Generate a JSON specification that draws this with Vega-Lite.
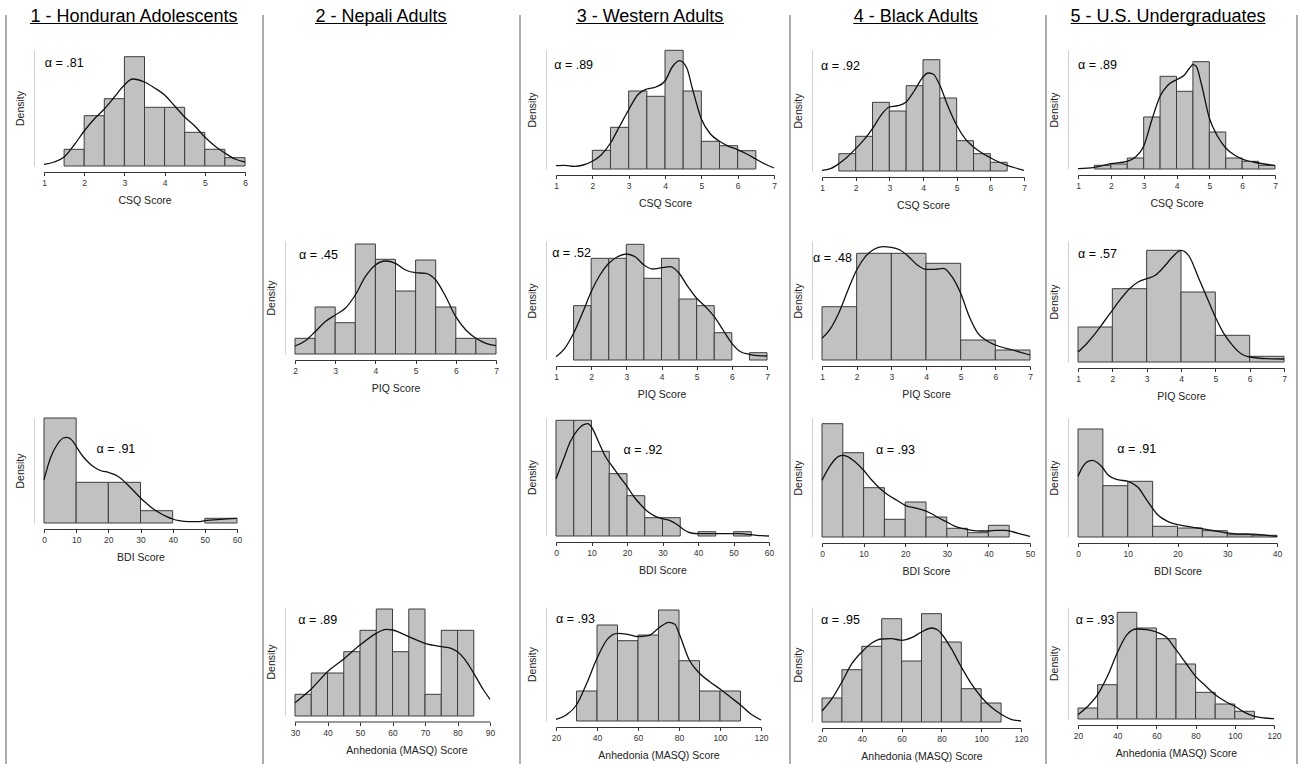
{
"$schema":"https://vega.github.io/schema/vega-lite/v6.json",
"padding":0,
"background":"white",
"columns":11,
"spacing":0,
"bounds":"flush",
"align":"each",
"center":{"row":false,"column":true},
"concat":[
{"width":1,"height":15,"data":{"values":[]},"mark":"point"},
{"width":1,"height":15,"data":{"values":[]},"mark":"point"},
{"width":1,"height":15,"data":{"values":[]},"mark":"point"},
{"width":1,"height":15,"data":{"values":[]},"mark":"point"},
{"width":1,"height":15,"data":{"values":[]},"mark":"point"},
{"width":1,"height":15,"data":{"values":[]},"mark":"point"},
{"width":1,"height":15,"data":{"values":[]},"mark":"point"},
{"width":1,"height":15,"data":{"values":[]},"mark":"point"},
{"width":1,"height":15,"data":{"values":[]},"mark":"point"},
{"width":1,"height":15,"data":{"values":[]},"mark":"point"},
{"width":1,"height":15,"data":{"values":[]},"mark":"point"},

{"width":44,"height":35,"data":{"values":[{"s":6}]},"mark":{"type":"rule","color":"#808080","strokeWidth":1.3},"encoding":{"x":{"field":"s","type":"quantitative","scale":{"domain":[0,44]},"axis":null}}},
{"width":201,"height":35,"data":{"values":[{"c":90,"a":-14,"b":194,"y":1,"t":"1 - Honduran Adolescents"}]},"encoding":{"y":{"field":"y","type":"quantitative","scale":{"domain":[0,1]},"axis":null}},"layer":[
 {"mark":{"type":"text","fontSize":18,"baseline":"alphabetic","align":"center","dy":6.5,"color":"#000"},"encoding":{"x":{"field":"c","type":"quantitative","scale":{"domain":[0,201]},"axis":null},"text":{"field":"t"}}},
 {"mark":{"type":"rule","color":"#000","strokeWidth":1.2,"yOffset":8.5},"encoding":{"x":{"field":"a","type":"quantitative","scale":{"domain":[0,201]},"axis":null},"x2":{"field":"b"}}}]},
{"width":50,"height":35,"data":{"values":[{"s":18}]},"mark":{"type":"rule","color":"#808080","strokeWidth":1.3},"encoding":{"x":{"field":"s","type":"quantitative","scale":{"domain":[0,50]},"axis":null}}},
{"width":223,"height":35,"data":{"values":[{"c":86,"a":20,"b":152,"y":1,"t":"2 - Nepali Adults"}]},"encoding":{"y":{"field":"y","type":"quantitative","scale":{"domain":[0,1]},"axis":null}},"layer":[
 {"mark":{"type":"text","fontSize":18,"baseline":"alphabetic","align":"center","dy":6.5,"color":"#000"},"encoding":{"x":{"field":"c","type":"quantitative","scale":{"domain":[0,223]},"axis":null},"text":{"field":"t"}}},
 {"mark":{"type":"rule","color":"#000","strokeWidth":1.2,"yOffset":8.5},"encoding":{"x":{"field":"a","type":"quantitative","scale":{"domain":[0,223]},"axis":null},"x2":{"field":"b"}}}]},
{"width":38,"height":35,"data":{"values":[{"s":2}]},"mark":{"type":"rule","color":"#808080","strokeWidth":1.3},"encoding":{"x":{"field":"s","type":"quantitative","scale":{"domain":[0,38]},"axis":null}}},
{"width":218,"height":35,"data":{"values":[{"c":94,"a":20,"b":168,"y":1,"t":"3 - Western Adults"}]},"encoding":{"y":{"field":"y","type":"quantitative","scale":{"domain":[0,1]},"axis":null}},"layer":[
 {"mark":{"type":"text","fontSize":18,"baseline":"alphabetic","align":"center","dy":6.5,"color":"#000"},"encoding":{"x":{"field":"c","type":"quantitative","scale":{"domain":[0,218]},"axis":null},"text":{"field":"t"}}},
 {"mark":{"type":"rule","color":"#000","strokeWidth":1.2,"yOffset":8.5},"encoding":{"x":{"field":"a","type":"quantitative","scale":{"domain":[0,218]},"axis":null},"x2":{"field":"b"}}}]},
{"width":48,"height":35,"data":{"values":[{"s":16}]},"mark":{"type":"rule","color":"#808080","strokeWidth":1.3},"encoding":{"x":{"field":"s","type":"quantitative","scale":{"domain":[0,48]},"axis":null}}},
{"width":208,"height":35,"data":{"values":[{"c":93.7,"a":31.2,"b":156.2,"y":1,"t":"4 - Black Adults"}]},"encoding":{"y":{"field":"y","type":"quantitative","scale":{"domain":[0,1]},"axis":null}},"layer":[
 {"mark":{"type":"text","fontSize":18,"baseline":"alphabetic","align":"center","dy":6.5,"color":"#000"},"encoding":{"x":{"field":"c","type":"quantitative","scale":{"domain":[0,208]},"axis":null},"text":{"field":"t"}}},
 {"mark":{"type":"rule","color":"#000","strokeWidth":1.2,"yOffset":8.5},"encoding":{"x":{"field":"a","type":"quantitative","scale":{"domain":[0,208]},"axis":null},"x2":{"field":"b"}}}]},
{"width":48,"height":35,"data":{"values":[{"s":16}]},"mark":{"type":"rule","color":"#808080","strokeWidth":1.3},"encoding":{"x":{"field":"s","type":"quantitative","scale":{"domain":[0,48]},"axis":null}}},
{"width":206,"height":35,"data":{"values":[{"c":90,"a":-7.5,"b":187.5,"y":1,"t":"5 - U.S. Undergraduates"}]},"encoding":{"y":{"field":"y","type":"quantitative","scale":{"domain":[0,1]},"axis":null}},"layer":[
 {"mark":{"type":"text","fontSize":18,"baseline":"alphabetic","align":"center","dy":6.5,"color":"#000"},"encoding":{"x":{"field":"c","type":"quantitative","scale":{"domain":[0,206]},"axis":null},"text":{"field":"t"}}},
 {"mark":{"type":"rule","color":"#000","strokeWidth":1.2,"yOffset":8.5},"encoding":{"x":{"field":"a","type":"quantitative","scale":{"domain":[0,206]},"axis":null},"x2":{"field":"b"}}}]},
{"width":16,"height":35,"data":{"values":[{"s":13}]},"mark":{"type":"rule","color":"#808080","strokeWidth":1.3},"encoding":{"x":{"field":"s","type":"quantitative","scale":{"domain":[0,16]},"axis":null}}},

{"width":44,"height":121,"data":{"values":[{"s":6}]},"mark":{"type":"rule","color":"#808080","strokeWidth":1.3},"encoding":{"x":{"field":"s","type":"quantitative","scale":{"domain":[0,44]},"axis":null}}},
{"width":201,"height":116,
 "encoding":{"x":{"field":"lo","type":"quantitative","scale":{"domain":[1,6],"nice":false,"zero":false},"axis":{"values":[1,2,3,4,5,6],"title":"CSQ Score"}},
 "y":{"field":"v","type":"quantitative","scale":{"domain":[0,116],"nice":false},"axis":{"title":"Density"}}},
 "layer":[
 {"data":{"values":[{"lo":1.5,"hi":2,"v":16.7},{"lo":2,"hi":2.5,"v":50.3},{"lo":2.5,"hi":3,"v":67.3},{"lo":3,"hi":3.5,"v":109.3},{"lo":3.5,"hi":4,"v":58.7},{"lo":4,"hi":4.5,"v":58.7},{"lo":4.5,"hi":5,"v":33.7},{"lo":5,"hi":5.5,"v":16.7},{"lo":5.5,"hi":6,"v":8.3}]},
  "mark":{"type":"rect","fill":"#c1c1c1","stroke":"#3c3c3c","strokeWidth":1},"encoding":{"x2":{"field":"hi"},"y2":{"datum":0}}},
 {"data":{"values":[{"lo":1,"v":1.7},{"lo":1.25,"v":4},{"lo":1.5,"v":9},{"lo":1.75,"v":21},{"lo":2,"v":35},{"lo":2.25,"v":47},{"lo":2.5,"v":57},{"lo":2.75,"v":69},{"lo":3,"v":81},{"lo":3.2,"v":87},{"lo":3.5,"v":84},{"lo":3.75,"v":78},{"lo":4,"v":71},{"lo":4.25,"v":60},{"lo":4.5,"v":49},{"lo":4.75,"v":40},{"lo":5,"v":29},{"lo":5.25,"v":20},{"lo":5.5,"v":13},{"lo":5.75,"v":7},{"lo":6,"v":4}]},
  "mark":{"type":"line","color":"#111","strokeWidth":1.3,"interpolate":"monotone"}},
 {"data":{"values":[{"lo":1.02,"v":103,"t":"α = .81"}]},"mark":{"type":"text","align":"left","baseline":"middle","fontSize":12.5,"color":"#000"},"encoding":{"text":{"field":"t"}}}]},
{"width":50,"height":121,"data":{"values":[{"s":18}]},"mark":{"type":"rule","color":"#808080","strokeWidth":1.3},"encoding":{"x":{"field":"s","type":"quantitative","scale":{"domain":[0,50]},"axis":null}}},
{"width":1,"height":1,"data":{"values":[]},"mark":"point"},
{"width":38,"height":121,"data":{"values":[{"s":2}]},"mark":{"type":"rule","color":"#808080","strokeWidth":1.3},"encoding":{"x":{"field":"s","type":"quantitative","scale":{"domain":[0,38]},"axis":null}}},
{"width":218,"height":119,
 "encoding":{"x":{"field":"lo","type":"quantitative","scale":{"domain":[1,7],"nice":false,"zero":false},"axis":{"values":[1,2,3,4,5,6,7],"title":"CSQ Score"}},
 "y":{"field":"v","type":"quantitative","scale":{"domain":[0,119],"nice":false},"axis":{"title":"Density"}}},
 "layer":[
 {"data":{"values":[{"lo":2,"hi":2.5,"v":18.7},{"lo":2.5,"hi":3,"v":41.7},{"lo":3,"hi":3.5,"v":78},{"lo":3.5,"hi":4,"v":72.7},{"lo":4,"hi":4.5,"v":118.7},{"lo":4.5,"hi":5,"v":78},{"lo":5,"hi":5.5,"v":27.7},{"lo":5.5,"hi":6,"v":23.3},{"lo":6,"hi":6.5,"v":18.3}]},
  "mark":{"type":"rect","fill":"#c1c1c1","stroke":"#3c3c3c","strokeWidth":1},"encoding":{"x2":{"field":"hi"},"y2":{"datum":0}}},
 {"data":{"values":[{"lo":1,"v":3.3},{"lo":1.25,"v":3.7},{"lo":1.5,"v":2.7},{"lo":1.75,"v":4},{"lo":2,"v":7.7},{"lo":2.25,"v":14.3},{"lo":2.5,"v":26},{"lo":2.75,"v":42.7},{"lo":3,"v":59.3},{"lo":3.25,"v":74.3},{"lo":3.5,"v":80},{"lo":3.75,"v":82},{"lo":4,"v":88},{"lo":4.2,"v":102},{"lo":4.4,"v":108.3},{"lo":4.6,"v":101},{"lo":4.75,"v":81},{"lo":5,"v":50},{"lo":5.25,"v":35},{"lo":5.5,"v":27.7},{"lo":5.75,"v":22.7},{"lo":6,"v":19.3},{"lo":6.25,"v":15},{"lo":6.5,"v":10},{"lo":6.75,"v":5},{"lo":7,"v":1}]},
  "mark":{"type":"line","color":"#111","strokeWidth":1.3,"interpolate":"monotone"}},
 {"data":{"values":[{"lo":0.95,"v":104.3,"t":"α = .89"}]},"mark":{"type":"text","align":"left","baseline":"middle","fontSize":12.5,"color":"#000"},"encoding":{"text":{"field":"t"}}}]},
{"width":48,"height":121,"data":{"values":[{"s":16}]},"mark":{"type":"rule","color":"#808080","strokeWidth":1.3},"encoding":{"x":{"field":"s","type":"quantitative","scale":{"domain":[0,48]},"axis":null}}},
{"width":202,"height":121,
 "encoding":{"x":{"field":"lo","type":"quantitative","scale":{"domain":[1,7],"nice":false,"zero":false},"axis":{"values":[1,2,3,4,5,6,7],"title":"CSQ Score"}},
 "y":{"field":"v","type":"quantitative","scale":{"domain":[0,121],"nice":false},"axis":{"title":"Density"}}},
 "layer":[
 {"data":{"values":[{"lo":1.5,"hi":2,"v":17.3},{"lo":2,"hi":2.5,"v":34.7},{"lo":2.5,"hi":3,"v":68.7},{"lo":3,"hi":3.5,"v":60},{"lo":3.5,"hi":4,"v":85.3},{"lo":4,"hi":4.5,"v":111.3},{"lo":4.5,"hi":5,"v":73},{"lo":5,"hi":5.5,"v":30.3},{"lo":5.5,"hi":6,"v":17.3},{"lo":6,"hi":6.5,"v":8.7}]},
  "mark":{"type":"rect","fill":"#c1c1c1","stroke":"#3c3c3c","strokeWidth":1},"encoding":{"x2":{"field":"hi"},"y2":{"datum":0}}},
 {"data":{"values":[{"lo":1,"v":0.7},{"lo":1.25,"v":2.3},{"lo":1.5,"v":7.3},{"lo":1.75,"v":14},{"lo":2,"v":22.3},{"lo":2.25,"v":31.3},{"lo":2.5,"v":42.3},{"lo":2.75,"v":55.7},{"lo":3,"v":64},{"lo":3.25,"v":65.3},{"lo":3.5,"v":69},{"lo":3.75,"v":80.7},{"lo":4,"v":94},{"lo":4.15,"v":98},{"lo":4.3,"v":97},{"lo":4.5,"v":85.7},{"lo":4.75,"v":64},{"lo":5,"v":45.7},{"lo":5.25,"v":32.3},{"lo":5.5,"v":24},{"lo":5.75,"v":18},{"lo":6,"v":13.3},{"lo":6.25,"v":9},{"lo":6.5,"v":5.7},{"lo":6.75,"v":3},{"lo":7,"v":0.7}]},
  "mark":{"type":"line","color":"#111","strokeWidth":1.3,"interpolate":"monotone"}},
 {"data":{"values":[{"lo":0.97,"v":105,"t":"α = .92"}]},"mark":{"type":"text","align":"left","baseline":"middle","fontSize":12.5,"color":"#000"},"encoding":{"text":{"field":"t"}}}]},
{"width":48,"height":121,"data":{"values":[{"s":16}]},"mark":{"type":"rule","color":"#808080","strokeWidth":1.3},"encoding":{"x":{"field":"s","type":"quantitative","scale":{"domain":[0,48]},"axis":null}}},
{"width":197,"height":119,
 "encoding":{"x":{"field":"lo","type":"quantitative","scale":{"domain":[1,7],"nice":false,"zero":false},"axis":{"values":[1,2,3,4,5,6,7],"title":"CSQ Score"}},
 "y":{"field":"v","type":"quantitative","scale":{"domain":[0,119],"nice":false},"axis":{"title":"Density"}}},
 "layer":[
 {"data":{"values":[{"lo":1.5,"hi":2,"v":3.7},{"lo":2,"hi":2.5,"v":5},{"lo":2.5,"hi":3,"v":11},{"lo":3,"hi":3.5,"v":52},{"lo":3.5,"hi":4,"v":92.7},{"lo":4,"hi":4.5,"v":77.7},{"lo":4.5,"hi":5,"v":107.3},{"lo":5,"hi":5.5,"v":37},{"lo":5.5,"hi":6,"v":11},{"lo":6,"hi":6.5,"v":7.7},{"lo":6.5,"hi":7,"v":3.7}]},
  "mark":{"type":"rect","fill":"#c1c1c1","stroke":"#3c3c3c","strokeWidth":1},"encoding":{"x2":{"field":"hi"},"y2":{"datum":0}}},
 {"data":{"values":[{"lo":1,"v":0.3},{"lo":1.5,"v":1.7},{"lo":2,"v":5.3},{"lo":2.5,"v":7.7},{"lo":2.75,"v":12},{"lo":3,"v":22.7},{"lo":3.25,"v":49.3},{"lo":3.5,"v":72.7},{"lo":3.75,"v":84.3},{"lo":4,"v":89.3},{"lo":4.25,"v":94.3},{"lo":4.4,"v":101},{"lo":4.5,"v":104.3},{"lo":4.6,"v":102.7},{"lo":4.75,"v":86},{"lo":5,"v":51},{"lo":5.25,"v":32.7},{"lo":5.5,"v":21},{"lo":5.75,"v":14.3},{"lo":6,"v":10},{"lo":6.5,"v":6},{"lo":7,"v":3.3}]},
  "mark":{"type":"line","color":"#111","strokeWidth":1.3,"interpolate":"monotone"}},
 {"data":{"values":[{"lo":1.0,"v":104.3,"t":"α = .89"}]},"mark":{"type":"text","align":"left","baseline":"middle","fontSize":12.5,"color":"#000"},"encoding":{"text":{"field":"t"}}}]},
{"width":16,"height":121,"data":{"values":[{"s":13}]},"mark":{"type":"rule","color":"#808080","strokeWidth":1.3},"encoding":{"x":{"field":"s","type":"quantitative","scale":{"domain":[0,16]},"axis":null}}},

{"width":44,"height":70,"data":{"values":[{"s":6}]},"mark":{"type":"rule","color":"#808080","strokeWidth":1.3},"encoding":{"x":{"field":"s","type":"quantitative","scale":{"domain":[0,44]},"axis":null}}},
{"width":1,"height":1,"data":{"values":[]},"mark":"point"},
{"width":50,"height":70,"data":{"values":[{"s":18}]},"mark":{"type":"rule","color":"#808080","strokeWidth":1.3},"encoding":{"x":{"field":"s","type":"quantitative","scale":{"domain":[0,50]},"axis":null}}},
{"width":1,"height":1,"data":{"values":[]},"mark":"point"},
{"width":38,"height":70,"data":{"values":[{"s":2}]},"mark":{"type":"rule","color":"#808080","strokeWidth":1.3},"encoding":{"x":{"field":"s","type":"quantitative","scale":{"domain":[0,38]},"axis":null}}},
{"width":1,"height":1,"data":{"values":[]},"mark":"point"},
{"width":48,"height":70,"data":{"values":[{"s":16}]},"mark":{"type":"rule","color":"#808080","strokeWidth":1.3},"encoding":{"x":{"field":"s","type":"quantitative","scale":{"domain":[0,48]},"axis":null}}},
{"width":1,"height":1,"data":{"values":[]},"mark":"point"},
{"width":48,"height":70,"data":{"values":[{"s":16}]},"mark":{"type":"rule","color":"#808080","strokeWidth":1.3},"encoding":{"x":{"field":"s","type":"quantitative","scale":{"domain":[0,48]},"axis":null}}},
{"width":1,"height":1,"data":{"values":[]},"mark":"point"},
{"width":16,"height":70,"data":{"values":[{"s":13}]},"mark":{"type":"rule","color":"#808080","strokeWidth":1.3},"encoding":{"x":{"field":"s","type":"quantitative","scale":{"domain":[0,16]},"axis":null}}},

{"width":44,"height":121,"data":{"values":[{"s":6}]},"mark":{"type":"rule","color":"#808080","strokeWidth":1.3},"encoding":{"x":{"field":"s","type":"quantitative","scale":{"domain":[0,44]},"axis":null}}},
{"width":1,"height":1,"data":{"values":[]},"mark":"point"},
{"width":50,"height":121,"data":{"values":[{"s":18}]},"mark":{"type":"rule","color":"#808080","strokeWidth":1.3},"encoding":{"x":{"field":"s","type":"quantitative","scale":{"domain":[0,50]},"axis":null}}},
{"width":201,"height":113,
 "encoding":{"x":{"field":"lo","type":"quantitative","scale":{"domain":[2,7],"nice":false,"zero":false},"axis":{"values":[2,3,4,5,6,7],"title":"PIQ Score"}},
 "y":{"field":"v","type":"quantitative","scale":{"domain":[0,113],"nice":false},"axis":{"title":"Density"}}},
 "layer":[
 {"data":{"values":[{"lo":2,"hi":2.5,"v":15.7},{"lo":2.5,"hi":3,"v":47},{"lo":3,"hi":3.5,"v":31.3},{"lo":3.5,"hi":4,"v":110},{"lo":4,"hi":4.5,"v":94.7},{"lo":4.5,"hi":5,"v":63},{"lo":5,"hi":5.5,"v":94},{"lo":5.5,"hi":6,"v":47},{"lo":6,"hi":6.5,"v":15.7},{"lo":6.5,"hi":7,"v":15.7}]},
  "mark":{"type":"rect","fill":"#c1c1c1","stroke":"#3c3c3c","strokeWidth":1},"encoding":{"x2":{"field":"hi"},"y2":{"datum":0}}},
 {"data":{"values":[{"lo":2,"v":8},{"lo":2.25,"v":13},{"lo":2.5,"v":22.3},{"lo":2.75,"v":32.3},{"lo":3,"v":39},{"lo":3.25,"v":45.7},{"lo":3.5,"v":59},{"lo":3.75,"v":77.3},{"lo":4,"v":89},{"lo":4.25,"v":93},{"lo":4.5,"v":90.7},{"lo":4.75,"v":84},{"lo":5,"v":81.3},{"lo":5.25,"v":80.7},{"lo":5.5,"v":74},{"lo":5.75,"v":57.3},{"lo":6,"v":37.3},{"lo":6.25,"v":24},{"lo":6.5,"v":15.7},{"lo":6.75,"v":10.7},{"lo":7,"v":8.3}]},
  "mark":{"type":"line","color":"#111","strokeWidth":1.3,"interpolate":"monotone"}},
 {"data":{"values":[{"lo":2.1,"v":99,"t":"α = .45"}]},"mark":{"type":"text","align":"left","baseline":"middle","fontSize":12.5,"color":"#000"},"encoding":{"text":{"field":"t"}}}]},
{"width":38,"height":121,"data":{"values":[{"s":2}]},"mark":{"type":"rule","color":"#808080","strokeWidth":1.3},"encoding":{"x":{"field":"s","type":"quantitative","scale":{"domain":[0,38]},"axis":null}}},
{"width":211,"height":119,
 "encoding":{"x":{"field":"lo","type":"quantitative","scale":{"domain":[1,7],"nice":false,"zero":false},"axis":{"values":[1,2,3,4,5,6,7],"title":"PIQ Score"}},
 "y":{"field":"v","type":"quantitative","scale":{"domain":[0,119],"nice":false},"axis":{"title":"Density"}}},
 "layer":[
 {"data":{"values":[{"lo":1.5,"hi":2,"v":54.3},{"lo":2,"hi":2.5,"v":101.7},{"lo":2.5,"hi":3,"v":101.7},{"lo":3,"hi":3.5,"v":115.7},{"lo":3.5,"hi":4,"v":81.7},{"lo":4,"hi":4.5,"v":101.7},{"lo":4.5,"hi":5,"v":61},{"lo":5,"hi":5.5,"v":54.3},{"lo":5.5,"hi":6,"v":27.3},{"lo":6.5,"hi":7,"v":7.3}]},
  "mark":{"type":"rect","fill":"#c1c1c1","stroke":"#3c3c3c","strokeWidth":1},"encoding":{"x2":{"field":"hi"},"y2":{"datum":0}}},
 {"data":{"values":[{"lo":1,"v":3.3},{"lo":1.25,"v":11.7},{"lo":1.5,"v":26.7},{"lo":1.75,"v":46.7},{"lo":2,"v":68.3},{"lo":2.25,"v":85},{"lo":2.5,"v":96.7},{"lo":2.75,"v":103.3},{"lo":3,"v":106},{"lo":3.25,"v":103.3},{"lo":3.5,"v":95},{"lo":3.75,"v":91},{"lo":4,"v":92.3},{"lo":4.25,"v":93.3},{"lo":4.5,"v":86.7},{"lo":4.75,"v":73.3},{"lo":5,"v":61.7},{"lo":5.25,"v":53.3},{"lo":5.5,"v":43.3},{"lo":5.75,"v":30},{"lo":6,"v":16.7},{"lo":6.25,"v":8.3},{"lo":6.5,"v":5.7},{"lo":6.75,"v":4.3},{"lo":7,"v":4}]},
  "mark":{"type":"line","color":"#111","strokeWidth":1.3,"interpolate":"monotone"}},
 {"data":{"values":[{"lo":0.89,"v":106.7,"t":"α = .52"}]},"mark":{"type":"text","align":"left","baseline":"middle","fontSize":12.5,"color":"#000"},"encoding":{"text":{"field":"t"}}}]},
{"width":48,"height":121,"data":{"values":[{"s":16}]},"mark":{"type":"rule","color":"#808080","strokeWidth":1.3},"encoding":{"x":{"field":"s","type":"quantitative","scale":{"domain":[0,48]},"axis":null}}},
{"width":208,"height":119,
 "encoding":{"x":{"field":"lo","type":"quantitative","scale":{"domain":[1,7],"nice":false,"zero":false},"axis":{"values":[1,2,3,4,5,6,7],"title":"PIQ Score"}},
 "y":{"field":"v","type":"quantitative","scale":{"domain":[0,119],"nice":false},"axis":{"title":"Density"}}},
 "layer":[
 {"data":{"values":[{"lo":1,"hi":2,"v":53.3},{"lo":2,"hi":3,"v":106.7},{"lo":3,"hi":4,"v":106.7},{"lo":4,"hi":5,"v":96.7},{"lo":5,"hi":6,"v":20},{"lo":6,"hi":7,"v":10}]},
  "mark":{"type":"rect","fill":"#c1c1c1","stroke":"#3c3c3c","strokeWidth":1},"encoding":{"x2":{"field":"hi"},"y2":{"datum":0}}},
 {"data":{"values":[{"lo":1,"v":21.7},{"lo":1.25,"v":31.7},{"lo":1.5,"v":48.3},{"lo":1.75,"v":70},{"lo":2,"v":90},{"lo":2.25,"v":103.3},{"lo":2.5,"v":110.7},{"lo":2.75,"v":113.3},{"lo":3,"v":112.7},{"lo":3.25,"v":110},{"lo":3.5,"v":103.3},{"lo":3.75,"v":95},{"lo":4,"v":90.7},{"lo":4.25,"v":90.7},{"lo":4.5,"v":91.7},{"lo":4.75,"v":83.3},{"lo":5,"v":66.7},{"lo":5.25,"v":43.3},{"lo":5.5,"v":26.7},{"lo":5.75,"v":19.3},{"lo":6,"v":15},{"lo":6.5,"v":10},{"lo":7,"v":5}]},
  "mark":{"type":"line","color":"#111","strokeWidth":1.3,"interpolate":"monotone"}},
 {"data":{"values":[{"lo":0.74,"v":101.7,"t":"α = .48"}]},"mark":{"type":"text","align":"left","baseline":"middle","fontSize":12.5,"color":"#000"},"encoding":{"text":{"field":"t"}}}]},
{"width":48,"height":121,"data":{"values":[{"s":16}]},"mark":{"type":"rule","color":"#808080","strokeWidth":1.3},"encoding":{"x":{"field":"s","type":"quantitative","scale":{"domain":[0,48]},"axis":null}}},
{"width":206,"height":121,
 "encoding":{"x":{"field":"lo","type":"quantitative","scale":{"domain":[1,7],"nice":false,"zero":false},"axis":{"values":[1,2,3,4,5,6,7],"title":"PIQ Score"}},
 "y":{"field":"v","type":"quantitative","scale":{"domain":[0,121],"nice":false},"axis":{"title":"Density"}}},
 "layer":[
 {"data":{"values":[{"lo":1,"hi":2,"v":35},{"lo":2,"hi":3,"v":73.3},{"lo":3,"hi":4,"v":111.7},{"lo":4,"hi":5,"v":70},{"lo":5,"hi":6,"v":26.7},{"lo":6,"hi":7,"v":5.7}]},
  "mark":{"type":"rect","fill":"#c1c1c1","stroke":"#3c3c3c","strokeWidth":1},"encoding":{"x2":{"field":"hi"},"y2":{"datum":0}}},
 {"data":{"values":[{"lo":1,"v":10},{"lo":1.25,"v":18.3},{"lo":1.5,"v":28.3},{"lo":1.75,"v":40},{"lo":2,"v":51.7},{"lo":2.25,"v":63.3},{"lo":2.5,"v":73.3},{"lo":2.75,"v":80},{"lo":3,"v":83.3},{"lo":3.25,"v":86.7},{"lo":3.5,"v":95},{"lo":3.75,"v":105},{"lo":4,"v":111.7},{"lo":4.25,"v":105},{"lo":4.5,"v":85},{"lo":4.75,"v":65},{"lo":5,"v":45},{"lo":5.25,"v":28.3},{"lo":5.5,"v":16.7},{"lo":5.75,"v":8.3},{"lo":6,"v":5},{"lo":6.5,"v":3.3},{"lo":7,"v":3}]},
  "mark":{"type":"line","color":"#111","strokeWidth":1.3,"interpolate":"monotone"}},
 {"data":{"values":[{"lo":1.0,"v":108.3,"t":"α = .57"}]},"mark":{"type":"text","align":"left","baseline":"middle","fontSize":12.5,"color":"#000"},"encoding":{"text":{"field":"t"}}}]},
{"width":16,"height":121,"data":{"values":[{"s":13}]},"mark":{"type":"rule","color":"#808080","strokeWidth":1.3},"encoding":{"x":{"field":"s","type":"quantitative","scale":{"domain":[0,16]},"axis":null}}},

{"width":44,"height":56,"data":{"values":[{"s":6}]},"mark":{"type":"rule","color":"#808080","strokeWidth":1.3},"encoding":{"x":{"field":"s","type":"quantitative","scale":{"domain":[0,44]},"axis":null}}},
{"width":1,"height":1,"data":{"values":[]},"mark":"point"},
{"width":50,"height":56,"data":{"values":[{"s":18}]},"mark":{"type":"rule","color":"#808080","strokeWidth":1.3},"encoding":{"x":{"field":"s","type":"quantitative","scale":{"domain":[0,50]},"axis":null}}},
{"width":1,"height":1,"data":{"values":[]},"mark":"point"},
{"width":38,"height":56,"data":{"values":[{"s":2}]},"mark":{"type":"rule","color":"#808080","strokeWidth":1.3},"encoding":{"x":{"field":"s","type":"quantitative","scale":{"domain":[0,38]},"axis":null}}},
{"width":1,"height":1,"data":{"values":[]},"mark":"point"},
{"width":48,"height":56,"data":{"values":[{"s":16}]},"mark":{"type":"rule","color":"#808080","strokeWidth":1.3},"encoding":{"x":{"field":"s","type":"quantitative","scale":{"domain":[0,48]},"axis":null}}},
{"width":1,"height":1,"data":{"values":[]},"mark":"point"},
{"width":48,"height":56,"data":{"values":[{"s":16}]},"mark":{"type":"rule","color":"#808080","strokeWidth":1.3},"encoding":{"x":{"field":"s","type":"quantitative","scale":{"domain":[0,48]},"axis":null}}},
{"width":1,"height":1,"data":{"values":[]},"mark":"point"},
{"width":16,"height":56,"data":{"values":[{"s":13}]},"mark":{"type":"rule","color":"#808080","strokeWidth":1.3},"encoding":{"x":{"field":"s","type":"quantitative","scale":{"domain":[0,16]},"axis":null}}},

{"width":44,"height":119,"data":{"values":[{"s":6}]},"mark":{"type":"rule","color":"#808080","strokeWidth":1.3},"encoding":{"x":{"field":"s","type":"quantitative","scale":{"domain":[0,44]},"axis":null}}},
{"width":193,"height":105,
 "encoding":{"x":{"field":"lo","type":"quantitative","scale":{"domain":[0,60],"nice":false,"zero":false},"axis":{"values":[0,10,20,30,40,50,60],"title":"BDI Score"}},
 "y":{"field":"v","type":"quantitative","scale":{"domain":[0,105],"nice":false},"axis":{"title":"Density"}}},
 "layer":[
 {"data":{"values":[{"lo":0,"hi":10,"v":105},{"lo":10,"hi":20,"v":40.7},{"lo":20,"hi":30,"v":40.7},{"lo":30,"hi":40,"v":12.3},{"lo":50,"hi":60,"v":4.7}]},
  "mark":{"type":"rect","fill":"#c1c1c1","stroke":"#3c3c3c","strokeWidth":1},"encoding":{"x2":{"field":"hi"},"y2":{"datum":0}}},
 {"data":{"values":[{"lo":0,"v":43.3},{"lo":2,"v":65},{"lo":4,"v":78},{"lo":6,"v":85},{"lo":7,"v":85.7},{"lo":9,"v":81.7},{"lo":10,"v":76.7},{"lo":12,"v":67},{"lo":14,"v":60},{"lo":16,"v":55},{"lo":18,"v":52},{"lo":20,"v":50.7},{"lo":22,"v":48.3},{"lo":24,"v":44.3},{"lo":26,"v":38.3},{"lo":28,"v":31.7},{"lo":30,"v":25},{"lo":32,"v":19.3},{"lo":34,"v":14},{"lo":36,"v":10},{"lo":38,"v":6.7},{"lo":40,"v":4},{"lo":42,"v":2.3},{"lo":45,"v":1.3},{"lo":48,"v":1.3},{"lo":50,"v":2.3},{"lo":55,"v":3.7},{"lo":60,"v":4.7}]},
  "mark":{"type":"line","color":"#111","strokeWidth":1.3,"interpolate":"monotone"}},
 {"data":{"values":[{"lo":16.3,"v":74,"t":"α = .91"}]},"mark":{"type":"text","align":"left","baseline":"middle","fontSize":12.5,"color":"#000"},"encoding":{"text":{"field":"t"}}}]},
{"width":50,"height":119,"data":{"values":[{"s":18}]},"mark":{"type":"rule","color":"#808080","strokeWidth":1.3},"encoding":{"x":{"field":"s","type":"quantitative","scale":{"domain":[0,50]},"axis":null}}},
{"width":1,"height":1,"data":{"values":[]},"mark":"point"},
{"width":38,"height":119,"data":{"values":[{"s":2}]},"mark":{"type":"rule","color":"#808080","strokeWidth":1.3},"encoding":{"x":{"field":"s","type":"quantitative","scale":{"domain":[0,38]},"axis":null}}},
{"width":213,"height":118,
 "encoding":{"x":{"field":"lo","type":"quantitative","scale":{"domain":[0,60],"nice":false,"zero":false},"axis":{"values":[0,10,20,30,40,50,60],"title":"BDI Score"}},
 "y":{"field":"v","type":"quantitative","scale":{"domain":[0,118],"nice":false},"axis":{"title":"Density"}}},
 "layer":[
 {"data":{"values":[{"lo":0,"hi":5,"v":115.7},{"lo":5,"hi":10,"v":115.7},{"lo":10,"hi":15,"v":84.7},{"lo":15,"hi":20,"v":62.3},{"lo":20,"hi":25,"v":40.3},{"lo":25,"hi":30,"v":18.3},{"lo":30,"hi":35,"v":18.3},{"lo":40,"hi":45,"v":4.3},{"lo":50,"hi":55,"v":4.3}]},
  "mark":{"type":"rect","fill":"#c1c1c1","stroke":"#3c3c3c","strokeWidth":1},"encoding":{"x2":{"field":"hi"},"y2":{"datum":0}}},
 {"data":{"values":[{"lo":0,"v":57.3},{"lo":2,"v":75.7},{"lo":4,"v":94.3},{"lo":6,"v":105.7},{"lo":8,"v":111.7},{"lo":9,"v":112.3},{"lo":10,"v":109},{"lo":12,"v":94},{"lo":14,"v":79},{"lo":16,"v":69},{"lo":18,"v":59},{"lo":20,"v":49.7},{"lo":22,"v":39},{"lo":24,"v":30.7},{"lo":26,"v":24},{"lo":28,"v":19.7},{"lo":30,"v":17.3},{"lo":32,"v":15.7},{"lo":34,"v":11.7},{"lo":36,"v":6.3},{"lo":38,"v":3},{"lo":40,"v":2.3},{"lo":44,"v":2.3},{"lo":48,"v":2.3},{"lo":52,"v":2.3},{"lo":55,"v":1.3},{"lo":58,"v":0.3},{"lo":60,"v":0}]},
  "mark":{"type":"line","color":"#111","strokeWidth":1.3,"interpolate":"monotone"}},
 {"data":{"values":[{"lo":19,"v":86.3,"t":"α = .92"}]},"mark":{"type":"text","align":"left","baseline":"middle","fontSize":12.5,"color":"#000"},"encoding":{"text":{"field":"t"}}}]},
{"width":48,"height":119,"data":{"values":[{"s":16}]},"mark":{"type":"rule","color":"#808080","strokeWidth":1.3},"encoding":{"x":{"field":"s","type":"quantitative","scale":{"domain":[0,48]},"axis":null}}},
{"width":208,"height":119,
 "encoding":{"x":{"field":"lo","type":"quantitative","scale":{"domain":[0,50],"nice":false,"zero":false},"axis":{"values":[0,10,20,30,40,50],"title":"BDI Score"}},
 "y":{"field":"v","type":"quantitative","scale":{"domain":[0,119],"nice":false},"axis":{"title":"Density"}}},
 "layer":[
 {"data":{"values":[{"lo":0,"hi":5,"v":113.3},{"lo":5,"hi":10,"v":84.3},{"lo":10,"hi":15,"v":49.3},{"lo":15,"hi":20,"v":17.7},{"lo":20,"hi":25,"v":35},{"lo":25,"hi":30,"v":20},{"lo":30,"hi":35,"v":8.7},{"lo":35,"hi":40,"v":4.3},{"lo":40,"hi":45,"v":11.7}]},
  "mark":{"type":"rect","fill":"#c1c1c1","stroke":"#3c3c3c","strokeWidth":1},"encoding":{"x2":{"field":"hi"},"y2":{"datum":0}}},
 {"data":{"values":[{"lo":0,"v":56.7},{"lo":2,"v":71.7},{"lo":4,"v":80.7},{"lo":5,"v":81.7},{"lo":6,"v":80.7},{"lo":8,"v":75},{"lo":10,"v":66.7},{"lo":12,"v":56.7},{"lo":14,"v":48.3},{"lo":16,"v":41.7},{"lo":18,"v":36.7},{"lo":20,"v":31.7},{"lo":22,"v":29.3},{"lo":24,"v":27.3},{"lo":26,"v":24},{"lo":28,"v":19.3},{"lo":30,"v":15},{"lo":32,"v":10.7},{"lo":34,"v":8.3},{"lo":36,"v":6.7},{"lo":38,"v":6},{"lo":40,"v":6},{"lo":42,"v":6.7},{"lo":44,"v":6.7},{"lo":46,"v":5},{"lo":48,"v":2.7},{"lo":50,"v":0.7}]},
  "mark":{"type":"line","color":"#111","strokeWidth":1.3,"interpolate":"monotone"}},
 {"data":{"values":[{"lo":13,"v":87.3,"t":"α = .93"}]},"mark":{"type":"text","align":"left","baseline":"middle","fontSize":12.5,"color":"#000"},"encoding":{"text":{"field":"t"}}}]},
{"width":48,"height":119,"data":{"values":[{"s":16}]},"mark":{"type":"rule","color":"#808080","strokeWidth":1.3},"encoding":{"x":{"field":"s","type":"quantitative","scale":{"domain":[0,48]},"axis":null}}},
{"width":199,"height":119,
 "encoding":{"x":{"field":"lo","type":"quantitative","scale":{"domain":[0,40],"nice":false,"zero":false},"axis":{"values":[0,10,20,30,40],"title":"BDI Score"}},
 "y":{"field":"v","type":"quantitative","scale":{"domain":[0,119],"nice":false},"axis":{"title":"Density"}}},
 "layer":[
 {"data":{"values":[{"lo":0,"hi":5,"v":108},{"lo":5,"hi":10,"v":51.3},{"lo":10,"hi":15,"v":55.7},{"lo":15,"hi":20,"v":10.7},{"lo":20,"hi":25,"v":9},{"lo":25,"hi":30,"v":6.3},{"lo":30,"hi":35,"v":2.3},{"lo":35,"hi":40,"v":1.7}]},
  "mark":{"type":"rect","fill":"#c1c1c1","stroke":"#3c3c3c","strokeWidth":1},"encoding":{"x2":{"field":"hi"},"y2":{"datum":0}}},
 {"data":{"values":[{"lo":0,"v":60.7},{"lo":1,"v":70.7},{"lo":2,"v":75.7},{"lo":3,"v":76.7},{"lo":4,"v":74},{"lo":5,"v":69},{"lo":6,"v":62.3},{"lo":8,"v":57.3},{"lo":10,"v":55.7},{"lo":12,"v":50},{"lo":14,"v":35.7},{"lo":16,"v":22.3},{"lo":18,"v":15.7},{"lo":20,"v":12.3},{"lo":22,"v":10.7},{"lo":24,"v":9},{"lo":26,"v":7.3},{"lo":28,"v":5.7},{"lo":30,"v":4},{"lo":32,"v":3},{"lo":34,"v":3},{"lo":36,"v":2.7},{"lo":38,"v":1.7},{"lo":40,"v":0.7}]},
  "mark":{"type":"line","color":"#111","strokeWidth":1.3,"interpolate":"monotone"}},
 {"data":{"values":[{"lo":7.9,"v":88,"t":"α = .91"}]},"mark":{"type":"text","align":"left","baseline":"middle","fontSize":12.5,"color":"#000"},"encoding":{"text":{"field":"t"}}}]},
{"width":16,"height":119,"data":{"values":[{"s":13}]},"mark":{"type":"rule","color":"#808080","strokeWidth":1.3},"encoding":{"x":{"field":"s","type":"quantitative","scale":{"domain":[0,16]},"axis":null}}},

{"width":44,"height":70,"data":{"values":[{"s":6}]},"mark":{"type":"rule","color":"#808080","strokeWidth":1.3},"encoding":{"x":{"field":"s","type":"quantitative","scale":{"domain":[0,44]},"axis":null}}},
{"width":1,"height":1,"data":{"values":[]},"mark":"point"},
{"width":50,"height":70,"data":{"values":[{"s":18}]},"mark":{"type":"rule","color":"#808080","strokeWidth":1.3},"encoding":{"x":{"field":"s","type":"quantitative","scale":{"domain":[0,50]},"axis":null}}},
{"width":1,"height":1,"data":{"values":[]},"mark":"point"},
{"width":38,"height":70,"data":{"values":[{"s":2}]},"mark":{"type":"rule","color":"#808080","strokeWidth":1.3},"encoding":{"x":{"field":"s","type":"quantitative","scale":{"domain":[0,38]},"axis":null}}},
{"width":1,"height":1,"data":{"values":[]},"mark":"point"},
{"width":48,"height":70,"data":{"values":[{"s":16}]},"mark":{"type":"rule","color":"#808080","strokeWidth":1.3},"encoding":{"x":{"field":"s","type":"quantitative","scale":{"domain":[0,48]},"axis":null}}},
{"width":1,"height":1,"data":{"values":[]},"mark":"point"},
{"width":48,"height":70,"data":{"values":[{"s":16}]},"mark":{"type":"rule","color":"#808080","strokeWidth":1.3},"encoding":{"x":{"field":"s","type":"quantitative","scale":{"domain":[0,48]},"axis":null}}},
{"width":1,"height":1,"data":{"values":[]},"mark":"point"},
{"width":16,"height":70,"data":{"values":[{"s":13}]},"mark":{"type":"rule","color":"#808080","strokeWidth":1.3},"encoding":{"x":{"field":"s","type":"quantitative","scale":{"domain":[0,16]},"axis":null}}},

{"width":44,"height":115,"data":{"values":[{"s":6}]},"mark":{"type":"rule","color":"#808080","strokeWidth":1.3},"encoding":{"x":{"field":"s","type":"quantitative","scale":{"domain":[0,44]},"axis":null}}},
{"width":1,"height":1,"data":{"values":[]},"mark":"point"},
{"width":50,"height":115,"data":{"values":[{"s":18}]},"mark":{"type":"rule","color":"#808080","strokeWidth":1.3},"encoding":{"x":{"field":"s","type":"quantitative","scale":{"domain":[0,50]},"axis":null}}},
{"width":223,"height":109,
 "encoding":{"x":{"field":"lo","type":"quantitative","scale":{"domain":[30,98.6],"nice":false,"zero":false},"axis":{"values":[30,40,50,60,70,80,90],"domain":false,"title":"Anhedonia (MASQ) Score"}},
 "y":{"field":"v","type":"quantitative","scale":{"domain":[0,109],"nice":false},"axis":{"title":"Density"}}},
 "layer":[
 {"data":{"values":[{"lo":30,"hi":35,"v":21.7},{"lo":35,"hi":40,"v":43},{"lo":40,"hi":45,"v":43},{"lo":45,"hi":50,"v":64.3},{"lo":50,"hi":55,"v":85.7},{"lo":55,"hi":60,"v":107},{"lo":60,"hi":65,"v":64.3},{"lo":65,"hi":70,"v":107},{"lo":70,"hi":75,"v":21.7},{"lo":75,"hi":80,"v":85.7},{"lo":80,"hi":85,"v":85.7}]},
  "mark":{"type":"rect","fill":"#c1c1c1","stroke":"#3c3c3c","strokeWidth":1},"encoding":{"x2":{"field":"hi"},"y2":{"datum":0}}},
 {"data":{"values":[{"lo":30,"v":13.3},{"lo":35,"v":27},{"lo":40,"v":44.3},{"lo":45,"v":57},{"lo":50,"v":71},{"lo":55,"v":82.7},{"lo":58,"v":86.7},{"lo":60,"v":86},{"lo":65,"v":79.3},{"lo":70,"v":72.7},{"lo":75,"v":69.3},{"lo":78,"v":67.7},{"lo":80,"v":64.3},{"lo":82,"v":57.7},{"lo":85,"v":42.7},{"lo":88,"v":26},{"lo":90,"v":16.7}]},
  "mark":{"type":"line","color":"#111","strokeWidth":1.3,"interpolate":"monotone"}},
 {"data":{"values":[{"lo":30,"hi":90,"v":0}]},"mark":{"type":"rule","color":"#333","strokeWidth":1,"yOffset":6},"encoding":{"x2":{"field":"hi"}}},
 {"data":{"values":[{"lo":31,"v":96,"t":"α = .89"}]},"mark":{"type":"text","align":"left","baseline":"middle","fontSize":12.5,"color":"#000"},"encoding":{"text":{"field":"t"}}}]},
{"width":38,"height":115,"data":{"values":[{"s":2}]},"mark":{"type":"rule","color":"#808080","strokeWidth":1.3},"encoding":{"x":{"field":"s","type":"quantitative","scale":{"domain":[0,38]},"axis":null}}},
{"width":205,"height":114,
 "encoding":{"x":{"field":"lo","type":"quantitative","scale":{"domain":[20,120],"nice":false,"zero":false},"axis":{"values":[20,40,60,80,100,120],"title":"Anhedonia (MASQ) Score"}},
 "y":{"field":"v","type":"quantitative","scale":{"domain":[0,114],"nice":false},"axis":{"title":"Density"}}},
 "layer":[
 {"data":{"values":[{"lo":30,"hi":40,"v":30},{"lo":40,"hi":50,"v":96},{"lo":50,"hi":60,"v":80.3},{"lo":60,"hi":70,"v":86},{"lo":70,"hi":80,"v":111},{"lo":80,"hi":90,"v":60.3},{"lo":90,"hi":100,"v":30},{"lo":100,"hi":110,"v":30}]},
  "mark":{"type":"rect","fill":"#c1c1c1","stroke":"#3c3c3c","strokeWidth":1},"encoding":{"x2":{"field":"hi"},"y2":{"datum":0}}},
 {"data":{"values":[{"lo":20,"v":1.7},{"lo":25,"v":6},{"lo":30,"v":16},{"lo":35,"v":37.7},{"lo":40,"v":62.7},{"lo":45,"v":81.7},{"lo":50,"v":87.7},{"lo":55,"v":86.7},{"lo":60,"v":84.3},{"lo":65,"v":85.3},{"lo":70,"v":92.7},{"lo":75,"v":98.7},{"lo":78,"v":96.7},{"lo":80,"v":87.7},{"lo":85,"v":61},{"lo":90,"v":47.7},{"lo":95,"v":39.3},{"lo":100,"v":32},{"lo":105,"v":24},{"lo":110,"v":16},{"lo":115,"v":7},{"lo":120,"v":1}]},
  "mark":{"type":"line","color":"#111","strokeWidth":1.3,"interpolate":"monotone"}},
 {"data":{"values":[{"lo":20,"v":101.7,"t":"α = .93"}]},"mark":{"type":"text","align":"left","baseline":"middle","fontSize":12.5,"color":"#000"},"encoding":{"text":{"field":"t"}}}]},
{"width":48,"height":115,"data":{"values":[{"s":16}]},"mark":{"type":"rule","color":"#808080","strokeWidth":1.3},"encoding":{"x":{"field":"s","type":"quantitative","scale":{"domain":[0,48]},"axis":null}}},
{"width":199,"height":115,
 "encoding":{"x":{"field":"lo","type":"quantitative","scale":{"domain":[20,120],"nice":false,"zero":false},"axis":{"values":[20,40,60,80,100,120],"title":"Anhedonia (MASQ) Score"}},
 "y":{"field":"v","type":"quantitative","scale":{"domain":[0,115],"nice":false},"axis":{"title":"Density"}}},
 "layer":[
 {"data":{"values":[{"lo":20,"hi":30,"v":24},{"lo":30,"hi":40,"v":52.3},{"lo":40,"hi":50,"v":75.7},{"lo":50,"hi":60,"v":103.3},{"lo":60,"hi":70,"v":61},{"lo":70,"hi":80,"v":108.3},{"lo":80,"hi":90,"v":80},{"lo":90,"hi":100,"v":33.3},{"lo":100,"hi":110,"v":19}]},
  "mark":{"type":"rect","fill":"#c1c1c1","stroke":"#3c3c3c","strokeWidth":1},"encoding":{"x2":{"field":"hi"},"y2":{"datum":0}}},
 {"data":{"values":[{"lo":20,"v":11},{"lo":25,"v":23.3},{"lo":30,"v":40},{"lo":35,"v":58.3},{"lo":40,"v":70},{"lo":45,"v":79},{"lo":50,"v":83},{"lo":55,"v":83.3},{"lo":60,"v":81.7},{"lo":65,"v":84.3},{"lo":70,"v":90},{"lo":75,"v":94},{"lo":78,"v":92.3},{"lo":80,"v":88.3},{"lo":85,"v":73.3},{"lo":90,"v":55},{"lo":95,"v":38.3},{"lo":100,"v":25},{"lo":105,"v":15},{"lo":110,"v":7.7},{"lo":115,"v":2.7},{"lo":120,"v":1}]},
  "mark":{"type":"line","color":"#111","strokeWidth":1.3,"interpolate":"monotone"}},
 {"data":{"values":[{"lo":19.5,"v":101.7,"t":"α = .95"}]},"mark":{"type":"text","align":"left","baseline":"middle","fontSize":12.5,"color":"#000"},"encoding":{"text":{"field":"t"}}}]},
{"width":48,"height":115,"data":{"values":[{"s":16}]},"mark":{"type":"rule","color":"#808080","strokeWidth":1.3},"encoding":{"x":{"field":"s","type":"quantitative","scale":{"domain":[0,48]},"axis":null}}},
{"width":196,"height":112,
 "encoding":{"x":{"field":"lo","type":"quantitative","scale":{"domain":[20,120],"nice":false,"zero":false},"axis":{"values":[20,40,60,80,100,120],"title":"Anhedonia (MASQ) Score"}},
 "y":{"field":"v","type":"quantitative","scale":{"domain":[0,112],"nice":false},"axis":{"title":"Density"}}},
 "layer":[
 {"data":{"values":[{"lo":20,"hi":30,"v":11},{"lo":30,"hi":40,"v":34.3},{"lo":40,"hi":50,"v":106.7},{"lo":50,"hi":60,"v":91},{"lo":60,"hi":70,"v":80.3},{"lo":70,"hi":80,"v":55},{"lo":80,"hi":90,"v":26.7},{"lo":90,"hi":100,"v":15},{"lo":100,"hi":110,"v":7.7}]},
  "mark":{"type":"rect","fill":"#c1c1c1","stroke":"#3c3c3c","strokeWidth":1},"encoding":{"x2":{"field":"hi"},"y2":{"datum":0}}},
 {"data":{"values":[{"lo":20,"v":4.3},{"lo":25,"v":12.7},{"lo":30,"v":24.3},{"lo":35,"v":42.7},{"lo":40,"v":66},{"lo":45,"v":84.3},{"lo":50,"v":90},{"lo":55,"v":89.3},{"lo":60,"v":87},{"lo":65,"v":82},{"lo":70,"v":69.3},{"lo":75,"v":56},{"lo":80,"v":42.7},{"lo":85,"v":33.3},{"lo":90,"v":24.3},{"lo":95,"v":17.7},{"lo":100,"v":12.7},{"lo":105,"v":6.7},{"lo":110,"v":2.7},{"lo":115,"v":1},{"lo":120,"v":0.3}]},
  "mark":{"type":"line","color":"#111","strokeWidth":1.3,"interpolate":"monotone"}},
 {"data":{"values":[{"lo":18.8,"v":99.3,"t":"α = .93"}]},"mark":{"type":"text","align":"left","baseline":"middle","fontSize":12.5,"color":"#000"},"encoding":{"text":{"field":"t"}}}]},
{"width":16,"height":115,"data":{"values":[{"s":13}]},"mark":{"type":"rule","color":"#808080","strokeWidth":1.3},"encoding":{"x":{"field":"s","type":"quantitative","scale":{"domain":[0,16]},"axis":null}}},

{"width":44,"height":42,"data":{"values":[{"s":6}]},"mark":{"type":"rule","color":"#808080","strokeWidth":1.3},"encoding":{"x":{"field":"s","type":"quantitative","scale":{"domain":[0,44]},"axis":null}}},
{"width":1,"height":1,"data":{"values":[]},"mark":"point"},
{"width":50,"height":42,"data":{"values":[{"s":18}]},"mark":{"type":"rule","color":"#808080","strokeWidth":1.3},"encoding":{"x":{"field":"s","type":"quantitative","scale":{"domain":[0,50]},"axis":null}}},
{"width":1,"height":1,"data":{"values":[]},"mark":"point"},
{"width":38,"height":42,"data":{"values":[{"s":2}]},"mark":{"type":"rule","color":"#808080","strokeWidth":1.3},"encoding":{"x":{"field":"s","type":"quantitative","scale":{"domain":[0,38]},"axis":null}}},
{"width":1,"height":1,"data":{"values":[]},"mark":"point"},
{"width":48,"height":42,"data":{"values":[{"s":16}]},"mark":{"type":"rule","color":"#808080","strokeWidth":1.3},"encoding":{"x":{"field":"s","type":"quantitative","scale":{"domain":[0,48]},"axis":null}}},
{"width":1,"height":1,"data":{"values":[]},"mark":"point"},
{"width":48,"height":42,"data":{"values":[{"s":16}]},"mark":{"type":"rule","color":"#808080","strokeWidth":1.3},"encoding":{"x":{"field":"s","type":"quantitative","scale":{"domain":[0,48]},"axis":null}}},
{"width":1,"height":1,"data":{"values":[]},"mark":"point"},
{"width":16,"height":42,"data":{"values":[{"s":13}]},"mark":{"type":"rule","color":"#808080","strokeWidth":1.3},"encoding":{"x":{"field":"s","type":"quantitative","scale":{"domain":[0,16]},"axis":null}}}
],
"config":{
 "font":"Liberation Sans",
 "view":{"stroke":null},
 "axisX":{"offset":6,"domainColor":"#333","domainWidth":1,"tickColor":"#333","tickSize":3.5,"labelFontSize":8.5,"labelColor":"#333","labelPadding":2.5,"labelFlush":false,"labelOverlap":false,"titleFontSize":10.5,"titleFontWeight":"normal","titleColor":"#222","titlePadding":9,"grid":false},
 "axisY":{"offset":10,"ticks":false,"labels":false,"domainColor":"#d0d0d0","titleFontSize":10.5,"titleFontWeight":"normal","titleColor":"#222","titlePadding":9,"grid":false}
}
}
